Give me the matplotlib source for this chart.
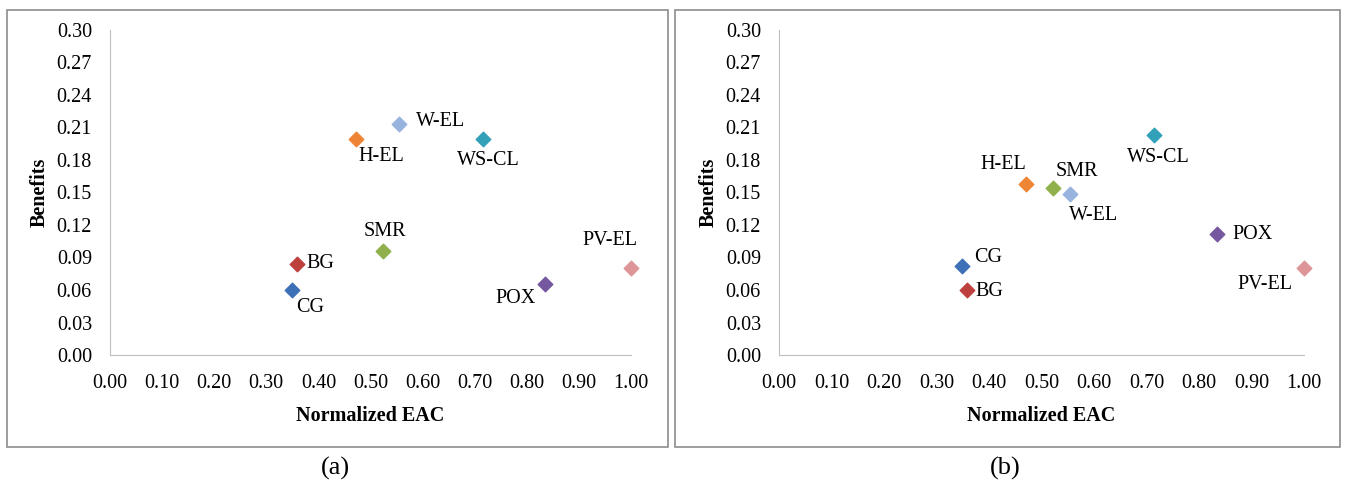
import matplotlib.pyplot as plt
from matplotlib.patches import Rectangle

plt.rcParams["font.family"] = ["Liberation Serif", "DejaVu Serif"]

names = ["CG", "BG", "H-EL", "W-EL", "WS-CL", "SMR", "POX", "PV-EL"]
colors = ["#3E70B8", "#BE403D", "#EE8534", "#98B4DE", "#33A0BA", "#8FB04A", "#7658A0", "#DE9597"]

eac_a = [0.349, 0.359, 0.472, 0.555, 0.716, 0.524, 0.835, 1.00]
benefits_a = [0.060, 0.084, 0.199, 0.213, 0.199, 0.096, 0.066, 0.080]

eac_b = [0.349, 0.358, 0.470, 0.554, 0.714, 0.522, 0.834, 1.00]
benefits_b = [0.082, 0.060, 0.158, 0.149, 0.203, 0.154, 0.112, 0.080]

# label offsets in pixels (dx, dy, ha)
offsets_a = [(18, -17, "center"), (9, 0, "left"), (25, -17, "center"), (17, 3, "left"),
             (5, -21, "center"), (2, 19, "center"), (-29, -15, "center"), (-21, 28, "center")]
offsets_b = [(12, 9, "left"), (8, -1, "left"), (-22, 19, "center"), (24, -22, "center"),
             (5, -22, "center"), (24, 17, "center"), (16, -1, "left"), (-39, -16, "center")]

W, H = 1346, 488
fig = plt.figure(figsize=(W / 100, H / 100), dpi=100)


def draw_panel(rect, border, eac, benefits, offsets, tag, tag_x):
    fig.patches.append(Rectangle((border[0] / W, 1 - border[3] / H),
                                 (border[2] - border[0]) / W, (border[3] - border[1]) / H,
                                 transform=fig.transFigure, fill=False,
                                 edgecolor="#8C8C8C", linewidth=1.2))
    left, top, right, bottom = rect
    ax = fig.add_axes([left / W, 1 - bottom / H, (right - left) / W, (bottom - top) / H])
    for x, y, c, n, (dx, dy, ha) in zip(eac, benefits, colors, names, offsets):
        ax.scatter(x, y, marker="D", s=55, color=c, zorder=3, clip_on=False)
        ax.annotate(n, (x, y), xytext=(dx, dy), textcoords="offset pixels",
                    ha=ha, va="center", fontsize=14.5)
    ax.set_xlim(0, 1.0)
    ax.set_ylim(0, 0.30)
    ax.set_xticks([i / 10 for i in range(11)])
    ax.set_xticklabels([f"{i / 10:.2f}" for i in range(11)])
    ax.set_yticks([i * 0.03 for i in range(11)])
    ax.set_yticklabels([f"{i * 0.03:.2f}" for i in range(11)])
    ax.tick_params(length=0, labelsize=14.5, pad=14)
    ax.tick_params(axis="y", pad=13)
    for s in ["top", "right"]:
        ax.spines[s].set_visible(False)
    for s in ["left", "bottom"]:
        ax.spines[s].set_color("#BFBFBF")
    ax.set_xlabel("Normalized EAC", fontsize=14.5, fontweight="bold", labelpad=9)
    ax.set_ylabel("Benefits", fontsize=14.5, fontweight="bold", labelpad=5)
    fig.text(tag_x / W, 1 - 468 / H, tag, ha="center", va="center", fontsize=19)


draw_panel((110, 30, 631, 355), (7, 10, 668, 447), eac_a, benefits_a, offsets_a, "(a)", 335)
draw_panel((779, 30, 1304, 355), (675, 10, 1340, 447), eac_b, benefits_b, offsets_b, "(b)", 1005)

fig.savefig("out.png", dpi=100)
